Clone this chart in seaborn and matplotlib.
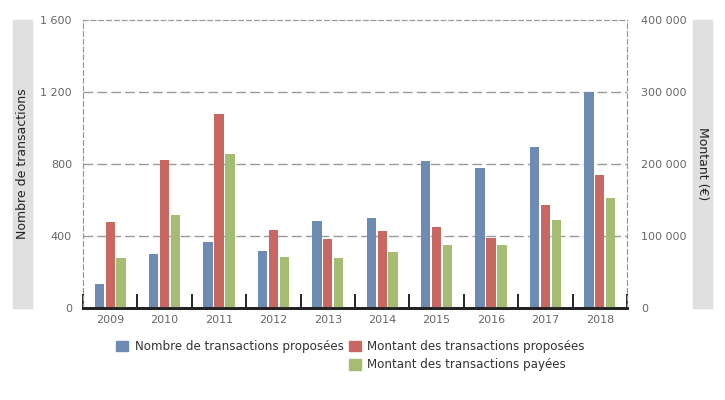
import matplotlib
matplotlib.use("Agg")
import matplotlib.pyplot as plt
import seaborn as sns
import numpy as np
from matplotlib.ticker import FuncFormatter, FixedLocator
from matplotlib.patches import Rectangle, Patch

years = ["2009", "2010", "2011", "2012", "2013", "2014", "2015", "2016", "2017", "2018"]
nb_proposees = [133, 300, 367, 317, 483, 500, 817, 778, 894, 1200]
montant_proposees = [120000, 205000, 270000, 108000, 96000, 107000, 112500, 97000, 143000, 185000]
montant_payees = [70000, 129000, 214000, 71000, 69500, 78000, 87500, 87500, 122000, 153000]

s_nb = "Nombre de transactions proposées"
s_mp = "Montant des transactions proposées"
s_pay = "Montant des transactions payées"
colors = {s_nb: "#6d8bb3", s_mp: "#c96862", s_pay: "#a5bd72"}

sns.set_theme(style="white")
plt.rcParams["font.family"] = ["DejaVu Sans"]

fig = plt.figure(figsize=(7.25, 4.0), dpi=100)
ax = fig.add_axes([83/725, 92/400, (627-83)/725, 288/400])
ax2 = ax.twinx()

x = np.arange(len(years))
bw = 0.172
off = 0.2
ax.bar(x - off, nb_proposees, width=bw, color=colors[s_nb], linewidth=0, zorder=2)
ax2.bar(x, montant_proposees, width=bw, color=colors[s_mp], linewidth=0, zorder=2)
ax2.bar(x + off, montant_payees, width=bw, color=colors[s_pay], linewidth=0, zorder=2)

tick_grey = "#666666"
ax.set_xlim(-0.5, 9.5)
ax.set_ylim(0, 1600)
ax2.set_ylim(0, 400000)
ax.set_xticks(x)
ax.set_xticklabels(years)
ax.set_yticks([0, 400, 800, 1200, 1600])
ax2.set_yticks([0, 100000, 200000, 300000, 400000])
fmt = FuncFormatter(lambda v, p: f"{int(v):,}".replace(",", " "))
ax.yaxis.set_major_formatter(fmt)
ax2.yaxis.set_major_formatter(fmt)

ax.tick_params(axis="y", length=0, labelsize=8, labelcolor=tick_grey, pad=8)
ax2.tick_params(axis="y", length=0, labelsize=8, labelcolor=tick_grey, pad=10)
ax.tick_params(axis="x", which="major", length=0, labelsize=8, labelcolor=tick_grey, pad=5)
ax.xaxis.set_minor_locator(FixedLocator(np.arange(-0.5, 10.0, 1.0)))
ax.tick_params(axis="x", which="minor", direction="in", length=10, width=1.2, color="black", bottom=True)

for a in (ax, ax2):
    for side in ("left", "right", "top"):
        a.spines[side].set_linestyle((0, (4, 3)))
        a.spines[side].set_color("#999999")
        a.spines[side].set_linewidth(0.8)
    a.spines["bottom"].set_color("#222222")
    a.spines["bottom"].set_linewidth(2)

ax.grid(False)
ax2.grid(False)
for yv in [400, 800, 1200]:
    ax.axhline(yv, color="#999999", linestyle=(0, (7, 3)), linewidth=1, zorder=0)
ax.set_axisbelow(True)

# grey label boxes
fig.patches.append(Rectangle((13/725, 92/400), 19/725, 288/400, transform=fig.transFigure,
                             color="#e0e0e0", zorder=0))
fig.patches.append(Rectangle((693/725, 92/400), 19/725, 288/400, transform=fig.transFigure,
                             color="#e0e0e0", zorder=0))
fig.text(22.5/725, (400-164)/400, "Nombre de transactions", rotation=90, ha="center", va="center",
         fontsize=9, color="#222222")
fig.text(702.5/725, (400-164)/400, "Montant (€)", rotation=270, ha="center", va="center",
         fontsize=9, color="#222222")

handles = [Patch(color=colors[s_nb]), Patch(color="none"),
           Patch(color=colors[s_mp]), Patch(color=colors[s_pay])]
labels = [s_nb, "", s_mp, s_pay]
fig.legend(handles, labels, ncol=2, loc="upper left", bbox_to_anchor=(116/725, (400-340)/400),
           frameon=False, fontsize=8.6, labelcolor="#333333", handlelength=1.0, handleheight=1.0,
           handletextpad=0.55, columnspacing=0.45, labelspacing=0.45, borderaxespad=0, borderpad=0)

fig.savefig("out.png", dpi=100)
